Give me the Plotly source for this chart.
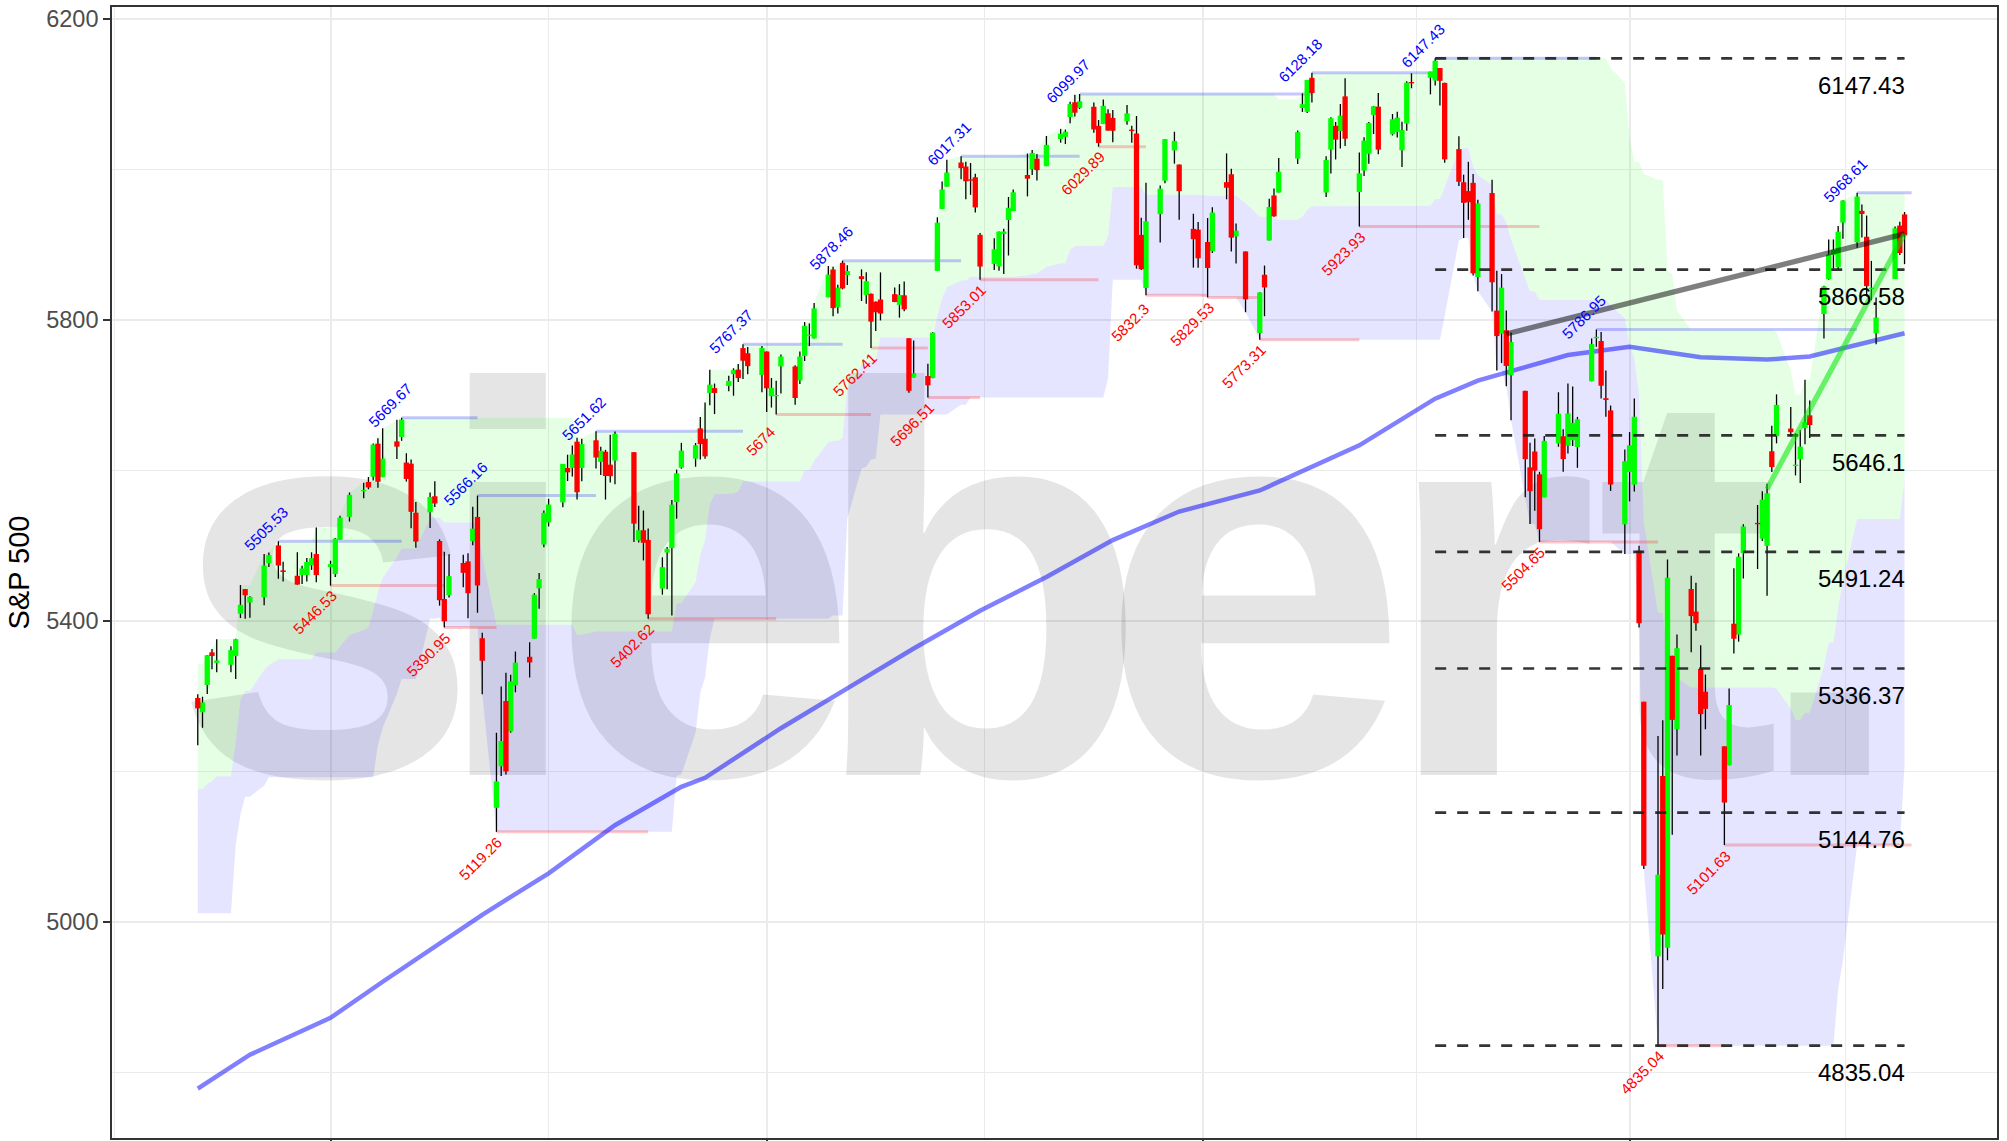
import pandas as pd
import plotly.graph_objects as go

# ---------------- data ----------------
market_holidays = ['2024-06-19', '2024-07-04', '2024-09-02', '2024-11-28', '2024-12-25',
                   '2025-01-01', '2025-01-09', '2025-01-20', '2025-02-17', '2025-04-18', '2025-05-26']

opens = [
    5297.2, 5278.2, 5314.5, 5357.8, 5343.8, 5341.2, 5353.0, 5409.1, 5441.9, 5424.1, 5431.1, 5476.2, 5499.9, 5466.8, 5459.6, 5460.7, 5460.7, 5473.6, 5488.5,
    5471.1, 5461.8, 5507.4, 5537.9, 5572.8, 5584.2, 5591.3, 5635.2, 5590.8, 5638.2, 5644.1, 5610.1, 5608.6, 5543.4, 5544.0, 5565.3, 5505.8, 5428.7, 5433.7, 5476.6, 5478.7, 5505.6,
    5537.8, 5376.6, 5151.1, 5206.4, 5293.1, 5252.6, 5314.0, 5351.9, 5376.1, 5442.9, 5501.1, 5530.5, 5557.2, 5602.9, 5603.1, 5637.8, 5602.9, 5639.7, 5611.0, 5624.5, 5607.3, 5612.7,
    5623.9, 5506.7, 5520.1, 5507.3, 5442.6, 5490.5, 5496.4, 5557.5, 5603.3, 5615.2, 5655.5, 5641.7, 5702.6, 5709.0, 5711.9, 5727.6, 5733.6, 5762.2, 5755.4, 5726.5,
    5757.7, 5698.2, 5698.2, 5737.8, 5737.8, 5719.1, 5751.8, 5778.4, 5775.1, 5829.8, 5866.7, 5816.6, 5875.6, 5859.4, 5857.8, 5832.7, 5834.5, 5824.0, 5826.8, 5833.9, 5819.7, 5832.4, 5775.3,
    5723.2, 5725.2, 5722.4, 5864.9, 5947.2, 5976.8, 6008.9, 6003.6, 5985.8, 5989.3, 5912.8, 5874.2, 5870.8, 5914.0, 5932.5, 5944.4, 5992.3, 6000.0, 6014.1, 6004.0,
    6040.1, 6043.0, 6069.4, 6089.0, 6081.4, 6083.0, 6057.6, 6060.2, 6074.3, 6068.2, 6063.8, 6052.6, 6047.6, 5912.7, 5842.0, 5940.3, 5984.7, 6025.0, 6006.2, 5920.7, 5919.7,
    5903.3, 5891.1, 5982.8, 5993.3, 5910.7, 5890.7, 5782.3, 5859.7, 5905.2, 5965.1, 5969.0, 6014.1, 6081.4, 6076.3, 6121.4, 5969.0, 6026.0, 6057.7, 6050.8, 6096.8,
    5969.7, 5998.1, 6020.5, 6072.2, 6083.1, 6046.4, 6049.3, 6025.1, 6060.6, 6115.5, 6121.6, 6117.8, 6134.5, 6114.8, 6026.7, 5982.7, 5970.9, 5981.9, 5856.7,
    5968.3, 5812.0, 5781.4, 5785.9, 5726.0, 5705.4, 5603.7, 5624.8, 5594.4, 5563.9, 5635.6, 5645.0, 5632.4, 5640.0, 5630.7, 5718.1, 5775.9, 5771.7, 5695.6, 5679.4, 5527.9,
    5597.5, 5580.8, 5492.9, 5292.1, 4953.8, 5193.6, 4965.3, 5353.2, 5255.6, 5442.0, 5412.0, 5335.8, 5305.5, 5232.9, 5207.7, 5395.9, 5381.4, 5489.7, 5529.2, 5508.9, 5499.4,
    5625.1, 5645.2, 5655.3, 5605.9, 5614.6, 5655.9, 5672.9, 5807.5, 5854.0, 5886.2, 5869.8, 5929.1, 5902.9, 5944.7, 5910.2, 5841.3, 5781.9, 5854.1, 5925.0, 5939.9,
]
highs = [
    5302.1, 5298.8, 5354.2, 5362.4, 5375.1, 5365.8, 5375.9, 5447.3, 5441.9, 5432.4, 5488.5, 5490.4, 5505.53, 5478.3, 5490.8, 5472.9, 5483.1, 5490.8, 5523.6,
    5479.6, 5509.7, 5539.3, 5570.3, 5583.1, 5590.8, 5635.4, 5642.5, 5655.6, 5666.9, 5669.67, 5622.5, 5614.1, 5557.5, 5570.4, 5585.3, 5508.0, 5491.5, 5488.3, 5487.7, 5489.5, 5551.5,
    5566.16, 5383.9, 5250.9, 5312.3, 5330.6, 5328.0, 5358.9, 5371.2, 5436.5, 5463.2, 5546.2, 5561.9, 5608.3, 5620.5, 5632.7, 5643.2, 5641.8, 5651.62, 5631.2, 5627.0, 5646.9, 5651.4,
    5623.9, 5552.7, 5546.3, 5522.5, 5484.2, 5497.9, 5560.4, 5600.7, 5636.3, 5636.1, 5670.8, 5689.8, 5733.6, 5715.1, 5725.4, 5735.3, 5741.0, 5767.37, 5763.8, 5765.1,
    5757.7, 5722.4, 5718.8, 5753.7, 5739.3, 5757.6, 5796.8, 5795.0, 5822.1, 5871.4, 5870.4, 5846.5, 5878.46, 5872.2, 5866.9, 5863.0, 5834.9, 5824.0, 5862.8, 5842.9, 5847.2, 5850.9, 5775.3,
    5772.3, 5741.4, 5783.4, 5936.1, 5983.8, 6012.5, 6017.31, 6009.9, 6008.2, 5993.9, 5915.3, 5908.1, 5917.1, 5920.7, 5963.1, 5972.9, 6020.8, 6025.4, 6020.2, 6044.2,
    6053.6, 6052.6, 6089.8, 6099.0, 6099.97, 6088.5, 6065.4, 6092.6, 6079.7, 6078.6, 6085.2, 6057.7, 6070.7, 5935.5, 5982.1, 5978.3, 6040.1, 6049.8, 6006.2, 5940.8, 5929.7,
    5935.1, 5949.3, 6021.0, 6000.7, 5927.9, 5890.7, 5836.3, 5871.9, 5960.6, 5974.3, 6015.0, 6051.5, 6100.8, 6118.7, 6128.18, 6017.2, 6069.1, 6062.8, 6086.6, 6120.9,
    6022.1, 6042.5, 6062.9, 6084.0, 6101.3, 6073.4, 6076.3, 6063.0, 6116.9, 6127.5, 6129.6, 6147.43, 6134.5, 6114.8, 6043.7, 5992.7, 6009.8, 5993.7, 5959.4,
    5986.1, 5865.1, 5860.6, 5812.1, 5783.0, 5705.4, 5636.3, 5642.2, 5597.8, 5645.3, 5703.5, 5654.5, 5715.3, 5711.2, 5670.8, 5775.1, 5786.95, 5783.6, 5732.3, 5685.9, 5627.6,
    5650.6, 5695.3, 5499.5, 5292.1, 5246.6, 5267.5, 5481.3, 5353.2, 5381.5, 5459.5, 5450.4, 5367.2, 5328.3, 5232.9, 5309.6, 5469.7, 5489.4, 5528.1, 5553.7, 5571.95, 5581.8,
    5658.9, 5700.7, 5683.9, 5649.2, 5653.5, 5720.1, 5692.6, 5845.0, 5906.6, 5906.6, 5924.6, 5958.6, 5968.61, 5953.1, 5938.4, 5878.1, 5829.5, 5924.0, 5930.0, 5943.1,
]
lows = [
    5234.3, 5257.6, 5302.4, 5335.4, 5331.3, 5331.5, 5322.3, 5403.4, 5402.5, 5403.8, 5420.4, 5471.3, 5455.6, 5452.0, 5447.6, 5448.6, 5451.9, 5467.5, 5451.1,
    5446.53, 5458.0, 5507.4, 5531.6, 5562.5, 5574.6, 5586.4, 5576.5, 5590.4, 5614.8, 5639.0, 5584.8, 5522.8, 5497.0, 5523.2, 5550.9, 5419.9, 5390.95, 5430.7, 5444.4, 5403.0, 5500.3,
    5410.4, 5302.0, 5119.26, 5193.6, 5195.5, 5250.9, 5304.7, 5324.4, 5376.1, 5415.9, 5497.5, 5525.2, 5550.7, 5585.5, 5591.6, 5560.9, 5585.2, 5602.3, 5593.5, 5560.9, 5583.7, 5581.3,
    5504.5, 5503.7, 5480.0, 5402.62, 5434.5, 5441.7, 5406.96, 5535.5, 5601.9, 5604.5, 5614.1, 5615.1, 5686.4, 5674.5, 5704.9, 5698.9, 5717.0, 5721.0, 5727.3, 5703.5,
    5677.4, 5683.2, 5674.0, 5702.0, 5686.9, 5714.6, 5745.0, 5764.8, 5775.1, 5829.8, 5804.5, 5808.3, 5840.3, 5846.1, 5824.8, 5821.2, 5762.41, 5784.9, 5799.0, 5823.1, 5802.7, 5811.3, 5703.0,
    5723.2, 5696.51, 5722.1, 5864.9, 5947.2, 5976.8, 5986.7, 5960.1, 5965.9, 5942.3, 5853.01, 5865.9, 5865.0, 5860.6, 5885.3, 5944.4, 5963.9, 5992.3, 5984.9, 6004.0,
    6035.3, 6033.4, 6061.1, 6070.0, 6079.9, 6048.6, 6029.89, 6060.2, 6051.2, 6035.8, 6059.1, 6035.2, 5867.8, 5866.1, 5832.3, 5902.6, 5981.4, 6007.4, 5932.95, 5869.2, 5868.9,
    5829.53, 5888.7, 5960.0, 5890.7, 5874.8, 5809.9, 5773.31, 5804.6, 5905.2, 5936.7, 5969.0, 6006.9, 6076.1, 6074.7, 6088.7, 5962.9, 5994.3, 6013.0, 6027.5, 6030.9,
    5923.93, 5990.9, 6007.1, 6046.8, 6020.0, 6044.8, 6042.3, 6003.0, 6051.0, 6107.6, 6099.5, 6111.2, 6084.6, 6008.6, 5977.8, 5908.5, 5932.7, 5858.8, 5837.7,
    5810.9, 5732.6, 5742.3, 5711.6, 5666.3, 5564.0, 5528.4, 5546.1, 5504.65, 5563.9, 5631.1, 5597.8, 5622.2, 5632.2, 5603.1, 5718.1, 5764.0, 5695.3, 5670.9, 5572.4, 5488.7,
    5558.5, 5571.5, 5390.8, 5069.9, 4835.04, 4910.4, 4948.4, 5115.3, 5220.8, 5358.0, 5386.4, 5220.8, 5255.6, 5101.63, 5207.7, 5356.2, 5372.0, 5455.9, 5468.6, 5505.7, 5433.2,
    5597.4, 5635.6, 5644.6, 5593.0, 5582.8, 5634.3, 5642.8, 5775.1, 5853.0, 5868.0, 5867.4, 5907.4, 5895.7, 5909.3, 5830.9, 5825.8, 5767.4, 5854.1, 5886.0, 5873.8,
]
closes = [
    5283.4, 5291.3, 5354.0, 5353.0, 5347.0, 5360.8, 5375.3, 5421.0, 5433.7, 5431.6, 5473.2, 5487.0, 5473.2, 5464.6, 5447.9, 5469.3, 5477.9, 5482.9, 5460.5,
    5475.1, 5509.0, 5537.0, 5567.2, 5572.9, 5577.0, 5633.9, 5584.5, 5615.4, 5631.2, 5667.2, 5588.3, 5544.6, 5505.0, 5564.4, 5555.7, 5427.1, 5399.2, 5459.1, 5463.5, 5436.4, 5522.3,
    5446.7, 5346.6, 5186.3, 5240.0, 5199.5, 5319.3, 5344.2, 5344.4, 5434.4, 5455.2, 5543.2, 5554.3, 5608.3, 5597.1, 5620.9, 5570.6, 5634.6, 5616.8, 5625.8, 5592.2, 5592.0, 5648.4,
    5528.9, 5520.1, 5503.4, 5408.4, 5471.1, 5495.5, 5554.1, 5595.8, 5626.0, 5633.1, 5634.6, 5618.3, 5713.6, 5702.6, 5718.6, 5732.9, 5722.3, 5745.4, 5738.2, 5762.5,
    5708.8, 5709.5, 5699.9, 5751.1, 5695.9, 5751.1, 5792.0, 5780.1, 5815.0, 5859.9, 5815.3, 5842.5, 5841.5, 5864.7, 5854.0, 5851.2, 5797.4, 5809.9, 5808.1, 5823.5, 5832.9, 5813.7, 5705.5,
    5728.8, 5712.7, 5782.8, 5929.0, 5973.1, 5995.5, 6001.4, 5984.0, 5985.4, 5949.2, 5870.6, 5893.6, 5917.0, 5917.1, 5948.7, 5969.3, 5987.4, 6021.6, 5998.7, 6032.4,
    6047.2, 6049.9, 6086.5, 6075.1, 6090.3, 6052.9, 6034.9, 6084.2, 6051.3, 6051.1, 6074.1, 6050.6, 5872.2, 5867.1, 5930.9, 5974.1, 6040.0, 6037.6, 5970.8, 5906.9, 5881.6,
    5868.6, 5942.5, 5975.4, 5909.0, 5918.3, 5827.0, 5836.2, 5842.9, 5949.9, 5937.3, 5996.7, 6049.2, 6086.4, 6118.7, 6101.2, 6012.3, 6067.7, 6039.3, 6071.2, 6040.5,
    5994.6, 6037.9, 6061.5, 6083.6, 6026.0, 6066.4, 6068.5, 6052.0, 6115.1, 6114.6, 6129.6, 6144.2, 6117.5, 6013.1, 5983.3, 5955.3, 5956.1, 5861.6, 5954.5,
    5849.7, 5778.2, 5842.6, 5738.5, 5770.2, 5614.6, 5572.1, 5599.3, 5521.5, 5638.9, 5675.1, 5614.7, 5675.3, 5662.9, 5667.6, 5767.6, 5776.7, 5712.2, 5693.3, 5580.9, 5611.9,
    5633.1, 5671.0, 5396.5, 5074.1, 5062.3, 4982.8, 5456.9, 5268.1, 5363.4, 5406.0, 5396.6, 5275.7, 5282.7, 5158.2, 5287.8, 5375.9, 5484.8, 5525.2, 5528.8, 5560.8, 5569.1,
    5604.1, 5686.7, 5650.4, 5606.9, 5631.3, 5663.9, 5659.9, 5844.2, 5886.6, 5892.6, 5916.9, 5958.4, 5963.6, 5940.5, 5844.6, 5842.0, 5802.8, 5921.5, 5888.6, 5912.2,
]

# highs / lows of the 26 sessions before the first candle (they set the left end of the channel)
prior_highs = [5057.8, 5114.6, 5123.5, 5123.5, 5096.1, 5069.9, 5139.1, 5181.0, 5192.0, 5191.8, 5215.3, 5239.7, 5230.4,
               5250.4, 5311.8, 5325.5, 5305.5, 5325.3, 5324.3, 5315.2, 5341.9, 5311.7, 5315.9, 5282.3, 5270.2, 5280.3]
prior_lows = [5019.0, 5073.1, 5088.7, 5035.3, 5013.5, 5011.1, 5101.2, 5142.4, 5165.9, 5165.9, 5180.4, 5209.7, 5202.1,
              5218.0, 5263.3, 5296.2, 5283.6, 5302.4, 5297.9, 5286.0, 5256.9, 5278.4, 5280.9, 5262.7, 5222.1, 5191.7]
channel_window = 27

# 200-day moving average (blue line)
sma_dates = ['2024-06-03', '2024-06-14', '2024-07-01', '2024-07-12', '2024-08-02', '2024-08-16', '2024-08-30',
             '2024-09-13', '2024-09-18', '2024-10-04', '2024-10-18', '2024-11-01', '2024-11-15', '2024-11-29',
             '2024-12-13', '2024-12-27', '2025-01-13', '2025-01-27', '2025-02-03', '2025-02-19', '2025-02-28',
             '2025-03-10', '2025-03-19', '2025-04-01', '2025-04-16', '2025-04-30', '2025-05-09', '2025-05-16',
             '2025-05-29']
sma_values = [4778, 4823, 4872, 4920, 5009, 5064, 5128, 5179, 5191, 5257, 5310, 5363, 5413, 5458, 5507, 5545,
              5573, 5613, 5633, 5695, 5719, 5737, 5753, 5764, 5750, 5747, 5751, 5762, 5782]

# swing highs / lows
pivot_high_dates = ['2024-06-20', '2024-07-16', '2024-08-01', '2024-08-26', '2024-09-26', '2024-10-17',
                    '2024-11-11', '2024-12-06', '2025-01-24', '2025-02-19', '2025-03-25', '2025-05-19']
pivot_high_values = [5505.53, 5669.67, 5566.16, 5651.62, 5767.37, 5878.46, 6017.31, 6099.97, 6128.18,
                     6147.43, 5786.95, 5968.61]
pivot_low_dates = ['2024-07-01', '2024-07-25', '2024-08-05', '2024-09-06', '2024-10-03', '2024-10-23',
                   '2024-11-04', '2024-11-15', '2024-12-10', '2024-12-20', '2025-01-02', '2025-01-13',
                   '2025-02-03', '2025-03-13', '2025-04-07', '2025-04-21']
pivot_low_values = [5446.53, 5390.95, 5119.26, 5402.62, 5674.0, 5762.41, 5696.51, 5853.01, 6029.89, 5832.3,
                    5829.53, 5773.31, 5923.93, 5504.65, 4835.04, 5101.63]
pivot_line_end = '2025-05-30 12:00'

# Fibonacci retracement levels
fib_levels = [6147.43, 5866.58, 5646.1, 5491.24, 5336.37, 5144.76, 4835.04]
fib_start, fib_end = '2025-02-19', '2025-05-29'

# trend lines
gray_trend_dates, gray_trend_values = ['2025-03-06', '2025-05-29'], [5781, 5914]
green_trend_dates, green_trend_values = ['2025-04-30', '2025-05-29'], [5575, 5914]

watermark_text = 'siebert.'

# ---------------- derived ----------------
dates = pd.bdate_range('2024-06-03', '2025-05-29')
dates = dates[~dates.isin(pd.to_datetime(market_holidays))]
assert len(dates) == len(opens) == len(highs) == len(lows) == len(closes)

hi_all = pd.Series(prior_highs + highs)
lo_all = pd.Series(prior_lows + lows)
n0 = len(prior_highs)
upper = hi_all.rolling(channel_window).max().iloc[n0:].values
lower = lo_all.rolling(channel_window).min().iloc[n0:].values
middle = (upper + lower) / 2

# ---------------- layout constants ----------------
W, H = 2007, 1141
M_L, M_R, M_T, M_B = 112, 10, 7, 3
X_RANGE = [pd.Timestamp('2024-05-15 21:50'), pd.Timestamp('2025-06-17 12:00')]
Y_RANGE = [4712.3, 6215.6]

def px_to_date(px):
    frac = (px - M_L) / (W - M_L - M_R)
    return X_RANGE[0] + (X_RANGE[1] - X_RANGE[0]) * frac

def px_to_val(py):
    frac = (py - M_T) / (H - M_T - M_B)
    return Y_RANGE[1] - (Y_RANGE[1] - Y_RANGE[0]) * frac

FONT = 'Liberation Sans, Arial, sans-serif'
fig = go.Figure()

# watermark, one glyph at a time (under everything)
WM_SIZE = 555
wm_centers_px = [326, 508, 704, 979, 1254, 1490, 1688, 1830]
wm_baseline_px = 779
wm_y = px_to_val(wm_baseline_px - 0.257 * WM_SIZE)
fig.add_trace(go.Scatter(
    x=[px_to_date(p) for p in wm_centers_px], y=[wm_y] * len(watermark_text),
    mode='text', text=list(watermark_text), textposition='middle center',
    textfont=dict(family='Liberation Sans, Arial, sans-serif', size=WM_SIZE,
                  color='rgba(0,0,0,0.10)', weight='bold'),
    hoverinfo='skip', showlegend=False, cliponaxis=True))

# channel: blue lower half, green upper half
fig.add_trace(go.Scatter(x=dates, y=lower, mode='lines', line=dict(width=0),
                         hoverinfo='skip', showlegend=False))
fig.add_trace(go.Scatter(x=dates, y=middle, mode='lines', line=dict(width=0), fill='tonexty',
                         fillcolor='rgba(0,0,255,0.10)', hoverinfo='skip', showlegend=False))
fig.add_trace(go.Scatter(x=dates, y=upper, mode='lines', line=dict(width=0), fill='tonexty',
                         fillcolor='rgba(0,255,0,0.10)', hoverinfo='skip', showlegend=False))

# pivot horizontal lines
def pivot_segments(pd_dates, vals):
    xs, ys = [], []
    for i, (d, v) in enumerate(zip(pd_dates, vals)):
        end = pd_dates[i + 1] if i + 1 < len(pd_dates) else pivot_line_end
        xs += [d, end, None]
        ys += [v, v, None]
    return xs, ys

hx, hy = pivot_segments(pivot_high_dates, pivot_high_values)
lx, ly = pivot_segments(pivot_low_dates, pivot_low_values)
fig.add_trace(go.Scatter(x=hx, y=hy, mode='lines', line=dict(color='rgba(0,0,255,0.22)', width=3),
                         hoverinfo='skip', showlegend=False))
fig.add_trace(go.Scatter(x=lx, y=ly, mode='lines', line=dict(color='rgba(255,0,0,0.22)', width=3),
                         hoverinfo='skip', showlegend=False))

# 200-day average
fig.add_trace(go.Scatter(x=sma_dates, y=sma_values, mode='lines',
                         line=dict(color='rgba(0,0,255,0.5)', width=4.5),
                         hoverinfo='skip', showlegend=False))

# candles: wicks then bodies
wx, wy = [], []
gx, gy, rx, ry = [], [], [], []
for d, o, h, l, c in zip(dates, opens, highs, lows, closes):
    wx += [d, d, None]
    wy += [l, h, None]
    b0, b1 = min(o, c), max(o, c)
    if b1 - b0 < 1.8:
        m = (o + c) / 2
        b0, b1 = m - 0.9, m + 0.9
    if c >= o:
        gx += [d, d, None]; gy += [b0, b1, None]
    else:
        rx += [d, d, None]; ry += [b0, b1, None]
fig.add_trace(go.Scatter(x=wx, y=wy, mode='lines', line=dict(color='black', width=1.3),
                         hoverinfo='skip', showlegend=False))
fig.add_trace(go.Scatter(x=gx, y=gy, mode='lines', line=dict(color='#00FF00', width=5.3),
                         hoverinfo='skip', showlegend=False))
fig.add_trace(go.Scatter(x=rx, y=ry, mode='lines', line=dict(color='#FF0000', width=5.3),
                         hoverinfo='skip', showlegend=False))

# Fibonacci dashed lines
fx, fy = [], []
for v in fib_levels:
    fx += [fib_start, fib_end, None]
    fy += [v, v, None]
fig.add_trace(go.Scatter(x=fx, y=fy, mode='lines',
                         line=dict(color='rgba(30,30,30,0.9)', width=2.7, dash='11px,11px'),
                         hoverinfo='skip', showlegend=False))

# trend lines
fig.add_trace(go.Scatter(x=gray_trend_dates, y=gray_trend_values, mode='lines',
                         line=dict(color='rgba(0,0,0,0.5)', width=5.3),
                         hoverinfo='skip', showlegend=False))
fig.add_trace(go.Scatter(x=green_trend_dates, y=green_trend_values, mode='lines',
                         line=dict(color='rgba(0,230,0,0.55)', width=5.3),
                         hoverinfo='skip', showlegend=False))

def fmt(v):
    return f'{v:.2f}'.rstrip('0').rstrip('.')

annotations = []
for d, v in zip(pivot_high_dates, pivot_high_values):
    annotations.append(dict(x=d, y=v, xref='x', yref='y', text=fmt(v), showarrow=False,
                            textangle=-45, font=dict(family=FONT, size=15, color='#0000FF'),
                            xanchor='center', yanchor='middle', xshift=-12, yshift=12.5))
for d, v in zip(pivot_low_dates, pivot_low_values):
    annotations.append(dict(x=d, y=v, xref='x', yref='y', text=fmt(v), showarrow=False,
                            textangle=-45, font=dict(family=FONT, size=15, color='#FF0000'),
                            xanchor='center', yanchor='middle', xshift=-16, yshift=-27))
for v in fib_levels:
    annotations.append(dict(x=fib_end, y=v, xref='x', yref='y', text=fmt(v), showarrow=False,
                            font=dict(family=FONT, size=24, color='black'),
                            xanchor='right', yanchor='middle', xshift=2, yshift=-27))

grid = '#EBEBEB'
fig.update_layout(
    width=W, height=H,
    margin=dict(l=M_L, r=M_R, t=M_T, b=M_B),
    paper_bgcolor='white', plot_bgcolor='white',
    showlegend=False,
    annotations=annotations,
    font=dict(family=FONT),
    xaxis=dict(
        type='date', range=X_RANGE,
        tickmode='array', tickvals=['2024-07-01', '2024-10-01', '2025-01-01', '2025-04-01'],
        showticklabels=False, ticks='outside', ticklen=7, tickwidth=2, tickcolor='#333333',
        showgrid=True, gridcolor=grid, gridwidth=1.8,
        minor=dict(tickmode='array',
                   tickvals=['2024-05-16 12:00', '2024-08-16', '2024-11-16', '2025-02-15', '2025-05-16 12:00'],
                   showgrid=True, gridcolor=grid, gridwidth=0.9, ticks=''),
        showline=True, mirror=True, linecolor='#333333', linewidth=1.6,
        zeroline=False, automargin=False,
    ),
    yaxis=dict(
        range=Y_RANGE,
        tickmode='array', tickvals=[5000, 5400, 5800, 6200],
        tickfont=dict(family=FONT, size=23.5, color='#4D4D4D'),
        ticks='outside', ticklen=7, tickwidth=2, tickcolor='#333333',
        showgrid=True, gridcolor=grid, gridwidth=1.8,
        minor=dict(tickmode='array', tickvals=[4800, 5200, 5600, 6000],
                   showgrid=True, gridcolor=grid, gridwidth=0.9, ticks=''),
        showline=True, mirror=True, linecolor='#333333', linewidth=1.6,
        zeroline=False, automargin=False,
        title=dict(text='S&P 500', font=dict(family=FONT, size=29, color='black'), standoff=8),
    ),
)

fig.write_html('out.html',
               config={'displayModeBar': False},
               post_script="document.body.style.margin='0px';document.body.style.padding='0px';"
                           "document.documentElement.style.overflow='hidden';")
